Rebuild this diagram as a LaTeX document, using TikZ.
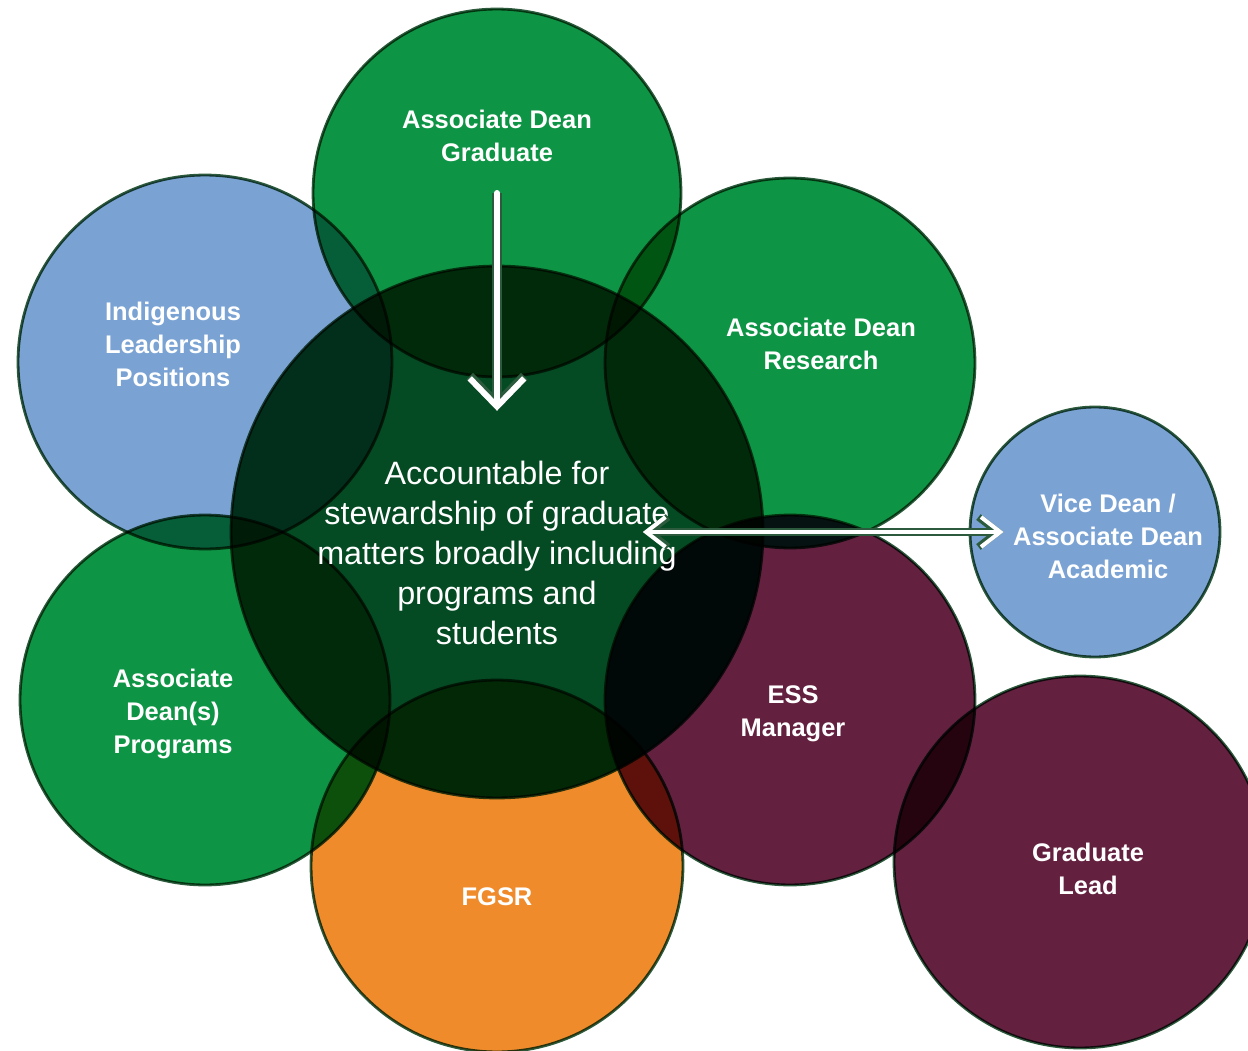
\documentclass[tikz,border=0pt]{standalone}
\usepackage{fontspec}
\setmainfont{Liberation Sans}
\usetikzlibrary{arrows.meta}
\definecolor{adgreen}{RGB}{14,148,69}
\definecolor{adblue}{RGB}{122,163,212}
\definecolor{admaroon}{RGB}{99,32,63}
\definecolor{adorange}{RGB}{240,139,43}
\definecolor{adcore}{RGB}{4,74,34}
\definecolor{adrim}{RGB}{44,90,60}

\begin{document}
\begin{tikzpicture}[x=0.02cm,y=-0.02cm]
            \tikzset{
            org node/.style={circle,draw=adrim,line width=1.6pt,inner sep=0pt,minimum size=#1},
            org text/.style={text=white,align=center,font=\fontsize{14.5}{18.8}\selectfont\bfseries},
            org flow/.style={white,line width=#1,preaction={draw=adrim,line width=#1+1.8pt}}
            }
            \useasboundingbox (0,0) rectangle (1248,1051);
            % circles, darkened where they overlap
            \begin{scope}[blend group=multiply]
            \node[org node=10.64cm,fill=adcore] (core) at (497,532) {};
            \node[org node=7.36cm,fill=adgreen] (adg) at (497,193) {};
            \node[org node=7.48cm,fill=adblue] (ilp) at (205,362) {};
            \node[org node=7.4cm,fill=adgreen] (adr) at (790,363) {};
            \node[org node=7.4cm,fill=adgreen] (adp) at (205,700) {};
            \node[org node=7.44cm,fill=adorange] (fgsr) at (497,866) {};
            \node[org node=7.4cm,fill=admaroon] (ess) at (790,700) {};
            \node[org node=5.0cm,fill=adblue] (vd) at (1095,532) {};
            \node[org node=7.44cm,fill=admaroon] (gl) at (1080,862) {};
            \end{scope}

            \node[org text] (adgl) at (497,136) {Associate Dean\\Graduate};
            \node[org text] (ilpl) at (173,344) {Indigenous\\Leadership\\Positions};
            \node[org text] (adrl) at (821,344) {Associate Dean\\Research};
            \node[org text] (vdl) at (1108,536) {Vice Dean /\\Associate Dean\\Academic};
            \node[org text] (adpl) at (173,714) {Associate\\Dean(s)\\Programs};
            \node[org text] (essl) at (793,714) {ESS\\Manager};
            \node[org text] (fgsrl) at (497,897) {FGSR};
            \node[org text] (gll) at (1088,869) {Graduate\\Lead};
            \node[text=white,align=center,font=\fontsize{18.4}{22.8}\selectfont] (acc) at (497,553)
                {Accountable for\\stewardship of graduate\\matters broadly including\\programs and\\students};

            \draw[org flow=3.4pt,line cap=round,-{Straight Barb[length=16pt,width=31pt]},shorten >=69pt]
                (adg.center) -- (core.center);
            \draw[org flow=2.3pt,{Straight Barb[length=11pt,width=17pt]}-{Straight Barb[length=11pt,width=17pt]},
                shorten <=83pt,shorten >=52pt]
                (core.center) -- (vd.center);
        \end{tikzpicture}
\end{document}
